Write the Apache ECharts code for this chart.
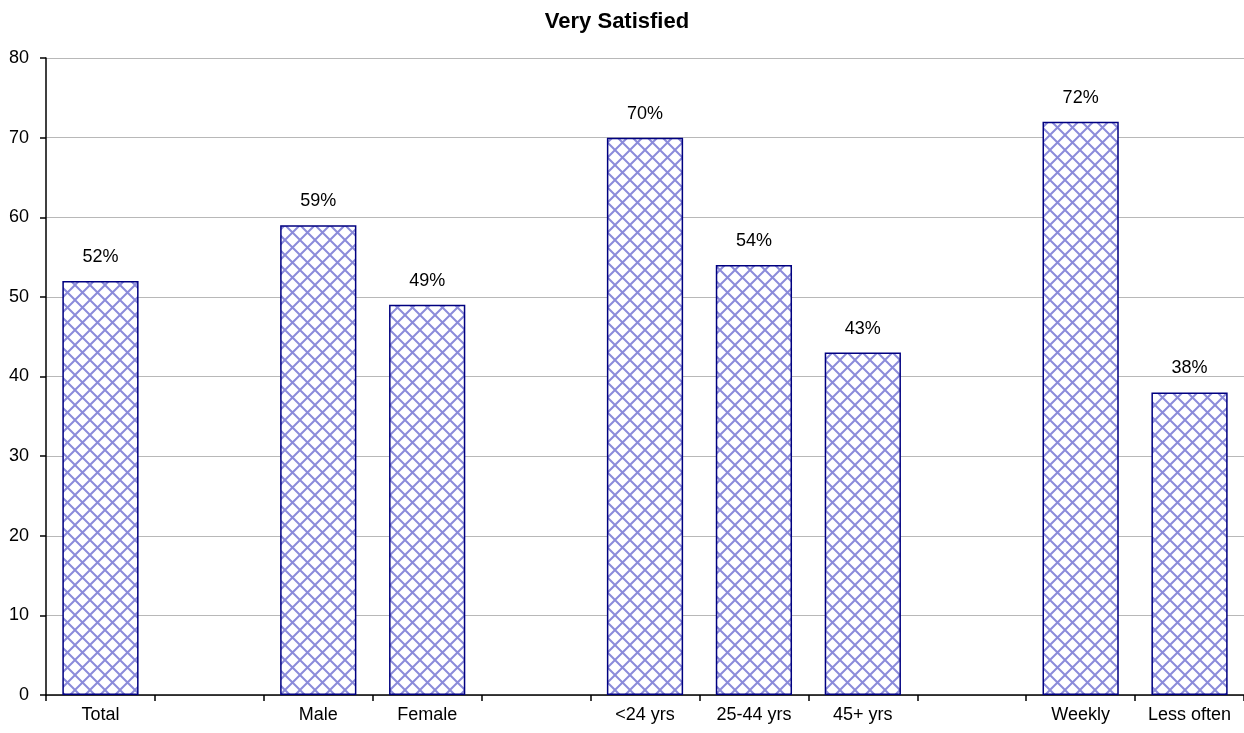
<!DOCTYPE html>
<html>
<head>
<meta charset="utf-8">
<script src="https://cdn.jsdelivr.net/npm/echarts@6/dist/echarts.min.js"></script>
<style>
  html, body { margin: 0; padding: 0; background: #fff; }
  #chart { width: 1244px; height: 733px; }
</style>
</head>
<body>
<div id="chart"></div>
<script>
// categories, blanks are the gaps between groups
var categories = ['Total', '', 'Male', 'Female', '', '<24 yrs', '25-44 yrs', '45+ yrs', '', 'Weekly', 'Less often'];
var values = [52, '-', 59, 49, '-', 70, 54, 43, '-', 72, 38];
var yTicks = [0, 10, 20, 30, 40, 50, 60, 70, 80];

// cross hatch fill like the old excel pattern
function makeHatch() {
    var c = document.createElement('canvas');
    var s = 15;
    c.width = s; c.height = s;
    var ctx = c.getContext('2d');
    ctx.fillStyle = '#ffffff';
    ctx.fillRect(0, 0, s, s);
    ctx.strokeStyle = 'rgba(100,100,205,0.75)';
    ctx.lineWidth = 2;
    ctx.beginPath();
    ctx.moveTo(0, 0); ctx.lineTo(s, s);
    ctx.moveTo(s, 0); ctx.lineTo(0, s);
    ctx.stroke();
    return c;
}

var myChart = echarts.init(document.getElementById('chart'));
var option = {
    animation: false,
    title: {
        text: 'Very Satisfied',
        left: 612,
        top: 6,
        textAlign: 'center',
        textStyle: { fontFamily: 'Liberation Sans', fontSize: 22, fontWeight: 'bold', color: '#000' }
    },
    grid: { left: 46, top: 58, width: 1201, height: 637, containLabel: false },
    xAxis: {
        type: 'category',
        data: categories,
        axisLine: { lineStyle: { color: '#000', width: 1.5 } },
        axisTick: { show: true, interval: 0, length: 6, lineStyle: { color: '#000', width: 1.5 } },
        axisLabel: { interval: 0, color: '#000', fontFamily: 'Liberation Sans', fontSize: 18, margin: 11 }
    },
    yAxis: {
        type: 'value',
        min: yTicks[0],
        max: yTicks[yTicks.length - 1],
        interval: 10,
        axisLine: { show: true, lineStyle: { color: '#000', width: 1.5 } },
        axisTick: { show: true, length: 6, lineStyle: { color: '#000', width: 1.5 } },
        axisLabel: { color: '#000', fontFamily: 'Liberation Sans', fontSize: 18, margin: 17 },
        splitLine: { lineStyle: { color: '#b8b8b8', width: 1.2 } }
    },
    series: [{
        name: 'Very Satisfied',
        type: 'bar',
        data: values,
        barWidth: '70%',
        itemStyle: {
            color: { image: makeHatch(), repeat: 'repeat' },
            borderColor: '#000080',
            borderWidth: 1.5
        },
        label: {
            show: true,
            position: 'top',
            distance: 15,
            formatter: '{c}%',
            color: '#000',
            fontFamily: 'Liberation Sans',
            fontSize: 18
        }
    }]
};
myChart.setOption(option);
</script>
</body>
</html>
